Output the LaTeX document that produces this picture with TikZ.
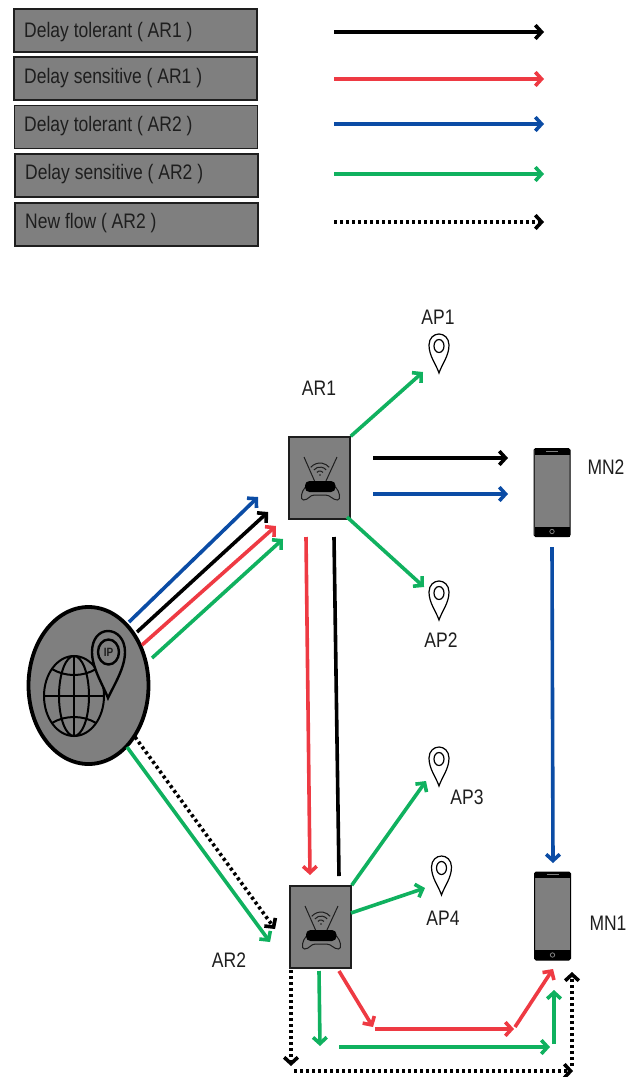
\documentclass[tikz,border=0pt]{standalone}
\usepackage{graphicx}
\usepackage{fontspec}
\setmainfont{Liberation Sans}
\usetikzlibrary{
  arrows.meta,
  shapes.geometric
}
\definecolor{flowred}{HTML}{EE3A43}
\definecolor{flowblue}{HTML}{0B4CA5}
\definecolor{flowgreen}{HTML}{10B15F}
\definecolor{boxgray}{HTML}{7F7F7F}
\definecolor{inkgray}{HTML}{1E1E1E}
\newcommand{\tallt}[1]{\scalebox{1}[1.2]{#1}}
\tikzset{
  pics/appin/.style={code={
    \draw[line width=1.2pt, black, fill=white]
      (0,0) .. controls (-3,-9) and (-10,-17) .. (-10,-28)
      .. controls (-10,-35) and (-5,-39) .. (0,-39)
      .. controls (5,-39) and (10,-35) .. (10,-28)
      .. controls (10,-17) and (3,-9) .. (0,0) -- cycle;
    \draw[line width=1.2pt, black] (0,-27) ellipse [x radius=5, y radius=6.5];
  }},
  pics/routericon/.style={code={
    \draw[line width=1pt, inkgray] (-15.5,-21) -- (-4.5,4);
    \draw[line width=1pt, inkgray] (17.5,-21) -- (6,4);
    \draw[line width=1pt, inkgray] (-8.7,-10.7) arc[start angle=220, end angle=320, radius=12];
    \draw[line width=1pt, inkgray] (-5.6,-8.1) arc[start angle=220, end angle=320, radius=8];
    \draw[line width=1pt, inkgray] (-2.6,-5.6) arc[start angle=220, end angle=320, radius=4];
    \fill[inkgray] (0.5,-3) circle [radius=.8];
    \draw[line width=1pt, inkgray]
      (-14,9) .. controls (-18,13) and (-20,22) .. (-16,22)
      .. controls (-11,22) and (-10,17) .. (-5,17) -- (6,17)
      .. controls (11,17) and (13,22) .. (18,22)
      .. controls (22,22) and (20,13) .. (16,9);
    \fill[black, rounded corners=4.5pt] (-14.5,3) rectangle (16,14);
  }},
  pics/phoneicon/.style={code={
    \fill[black] (-17.5,-44) rectangle (17.5,-38);
    \fill[black] (-17.5,34) rectangle (17.5,44);
    \draw[boxgray, line width=1pt] (-6,-41.5) -- (6,-41.5);
    \draw[boxgray, line width=.8pt] (0,39) circle [radius=2.2];
  }}
}

\begin{document}
\begin{tikzpicture}[
  x=1pt, y=-1pt,
  legendbox/.style={
    rectangle, draw=inkgray, line width=1.6pt, fill=boxgray,
    minimum width=243pt, minimum height=43pt,
    anchor=north west, inner sep=0pt, text=inkgray
  },
  legendtext/.style={
    font=\fontsize{17.5}{20}\selectfont, text=inkgray, anchor=west, inner sep=0pt
  },
  lbl/.style={
    font=\fontsize{17.5}{20}\selectfont, text=inkgray, inner sep=0pt
  },
  router/.style={
    rectangle, draw=inkgray, line width=1.5pt, fill=boxgray,
    minimum width=61pt, minimum height=82pt, inner sep=0pt
  },
  phone/.style={
    rectangle, rounded corners=1.5pt, draw=black, line width=1pt, fill=boxgray,
    minimum width=36pt, minimum height=88pt, inner sep=0pt
  },
  flow/.style={
    line width=3.6pt, -{Straight Barb[length=2.2mm,width=4.8mm]}
  },
  newflow/.style={
    line width=3.6pt, black, dash pattern=on 3pt off 3pt,
    -{Straight Barb[length=2.2mm,width=4.8mm]}
  }
]
\useasboundingbox (0,0) rectangle (638,1077);

% Legend
\node[legendbox] (boxA) at (13,8) {};
\node[legendbox] (boxB) at (13,56) {};
\node[legendbox] (boxC) at (13.5,104.5) {};
\node[legendbox] (boxD) at (14,153) {};
\node[legendbox] (boxE) at (14,202) {};
\node[legendtext] (textA) at (24,32) {\tallt{Delay tolerant ( AR1 )}};
\node[legendtext] (textB) at (24,78) {\tallt{Delay sensitive ( AR1 )}};
\node[legendtext] (textC) at (24,126) {\tallt{Delay tolerant ( AR2 )}};
\node[legendtext] (textD) at (25,174) {\tallt{Delay sensitive ( AR2 )}};
\node[legendtext] (textE) at (25,223) {\tallt{New flow ( AR2 )}};

\coordinate (keyAs) at (334,32);
\coordinate (keyAe) at (544,32);
\coordinate (keyBs) at (334,79);
\coordinate (keyBe) at (544,79);
\coordinate (keyCs) at (334,124);
\coordinate (keyCe) at (544,124);
\coordinate (keyDs) at (334,174);
\coordinate (keyDe) at (544,174);
\coordinate (keyEs) at (334,222);
\coordinate (keyEe) at (544,222);
\draw[flow, black] (keyAs) -- (keyAe);
\draw[flow, flowred] (keyBs) -- (keyBe);
\draw[flow, flowblue] (keyCs) -- (keyCe);
\draw[flow, flowgreen] (keyDs) -- (keyDe);
\draw[newflow] (keyEs) -- (keyEe);

% Internet
\node[ellipse, draw=black, line width=3.8pt, fill=boxgray, minimum width=120pt,
  minimum height=157pt, inner sep=0pt] (cloud) at (88.5,685.5) {};
\begin{scope}[line width=2pt, black]
  \draw (74,696) ellipse [x radius=30, y radius=40];
  \draw (74,696) ellipse [x radius=15, y radius=40];
  \draw (74,656) -- (74,736);
  \draw (44,696) -- (104,696);
  \draw (52,669) .. controls (65,677) and (83,677) .. (96,669);
  \draw (52,723) .. controls (65,715) and (83,715) .. (96,723);
\end{scope}
\draw[line width=2.4pt, black, fill=boxgray]
  (108,698) .. controls (103,685) and (92,668) .. (92,652)
  .. controls (92,639) and (99,631) .. (108,631)
  .. controls (117,631) and (125,639) .. (125,652)
  .. controls (125,668) and (114,685) .. (108,698) -- cycle;
\node[ellipse, draw=black, line width=2.4pt, minimum width=21pt, minimum height=25pt,
  inner sep=0pt, font=\bfseries\fontsize{10}{12}\selectfont, text=inkgray] (ipmark) at (108.5,652) {\tallt{IP}};

% Routers and phones
\node[router] (arOne) at (319.5,478) {};
\node[router] (arTwo) at (320.5,927) {};
\pic at (arOne.center) {routericon};
\pic at (arTwo.center) {routericon};
\node[phone] (mnTwo) at (552,492.5) {};
\node[phone] (mnOne) at (552.5,916) {};
\pic at (mnTwo.center) {phoneicon};
\pic at (mnOne.center) {phoneicon};

% Access points
\coordinate (pinOne) at (439,373);
\coordinate (pinTwo) at (439,620);
\coordinate (pinThree) at (439,786);
\coordinate (pinFour) at (441.5,895);
\pic at (pinOne) {appin};
\pic at (pinTwo) {appin};
\pic at (pinThree) {appin};
\pic at (pinFour) {appin};

% Labels
\node[lbl] (apOne) at (438,317) {\tallt{AP1}};
\node[lbl] (apTwo) at (441,640) {\tallt{AP2}};
\node[lbl] (apThree) at (467,797) {\tallt{AP3}};
\node[lbl] (apFour) at (443,918) {\tallt{AP4}};
\node[lbl] (labOne) at (319,388) {\tallt{AR1}};
\node[lbl] (labTwo) at (229,960) {\tallt{AR2}};
\node[lbl] (labMnTwo) at (606,467) {\tallt{MN2}};
\node[lbl] (labMnOne) at (608,923) {\tallt{MN1}};

% Flows out of the internet
\coordinate (blueS) at (129,622);
\coordinate (blueE) at (258,497);
\coordinate (blackS) at (137,632);
\coordinate (blackE) at (268,512);
\coordinate (redS) at (142,645);
\coordinate (redE) at (276,526);
\coordinate (greenS) at (152,658);
\coordinate (greenE) at (283,539);
\draw[flow, flowblue] (blueS) -- (blueE);
\draw[flow, black] (blackS) -- (blackE);
\draw[flow, flowred] (redS) -- (redE);
\draw[flow, flowgreen] (greenS) -- (greenE);

\coordinate (downS) at (127,747);
\coordinate (downE) at (270,942);
\coordinate (dotS) at (135,737);
\coordinate (dotE) at (275,929);
\draw[flow, flowgreen] (downS) -- (downE);
\draw[newflow] (dotS) -- (dotE);

% AR1 to its access points and MN2
\coordinate (oneApOne) at (423,372);
\coordinate (oneApTwoS) at (347,517);
\coordinate (oneApTwo) at (424,587);
\draw[flow, flowgreen] (arOne.north east) -- (oneApOne);
\draw[flow, flowgreen] (oneApTwoS) -- (oneApTwo);
\coordinate (oneBlackS) at (373,458);
\coordinate (oneBlackE) at (508,458);
\coordinate (oneBlueS) at (373,494);
\coordinate (oneBlueE) at (508,494);
\draw[flow, black] (oneBlackS) -- (oneBlackE);
\draw[flow, flowblue] (oneBlueS) -- (oneBlueE);

% AR1 down to AR2
\coordinate (linkRedS) at (306,537);
\coordinate (linkRedE) at (310,875);
\coordinate (linkBlackS) at (334,537);
\coordinate (linkBlackE) at (339,876);
\draw[flow, flowred] (linkRedS) -- (linkRedE);
\draw[line width=3.6pt, black] (linkBlackS) -- (linkBlackE);

% MN2 to MN1
\coordinate (handS) at (552,547);
\coordinate (handE) at (553,863);
\draw[flow, flowblue] (handS) -- (handE);

% AR2 to its access points
\coordinate (twoApThree) at (426,781);
\coordinate (twoApFourS) at (351,913);
\coordinate (twoApFour) at (425,888);
\draw[flow, flowgreen] (arTwo.north east) -- (twoApThree);
\draw[flow, flowgreen] (twoApFourS) -- (twoApFour);

% AR2 to MN1, green path
\coordinate (gA) at (319,971);
\coordinate (gB) at (320,1046);
\coordinate (gC) at (339,1047);
\coordinate (gD) at (550,1047);
\coordinate (gE) at (554,1044);
\coordinate (gF) at (554,990);
\draw[flow, flowgreen] (gA) -- (gB);
\draw[flow, flowgreen] (gC) -- (gD);
\draw[flow, flowgreen] (gE) -- (gF);

% AR2 to MN1, red path
\coordinate (rA) at (339,971);
\coordinate (rB) at (373,1027);
\coordinate (rC) at (375,1029);
\coordinate (rD) at (514,1029);
\coordinate (rE) at (515,1027);
\coordinate (rF) at (553,969);
\draw[flow, flowred] (rA) -- (rB);
\draw[flow, flowred] (rC) -- (rD);
\draw[flow, flowred] (rE) -- (rF);

% AR2 to MN1, new flow
\coordinate (nA) at (291,970);
\coordinate (nB) at (291,1066);
\coordinate (nC) at (294,1071);
\coordinate (nD) at (573,1071);
\coordinate (nE) at (572,1066);
\coordinate (nF) at (572,972);
\draw[newflow] (nA) -- (nB);
\draw[newflow] (nC) -- (nD);
\draw[newflow] (nE) -- (nF);

\end{tikzpicture}
\end{document}
